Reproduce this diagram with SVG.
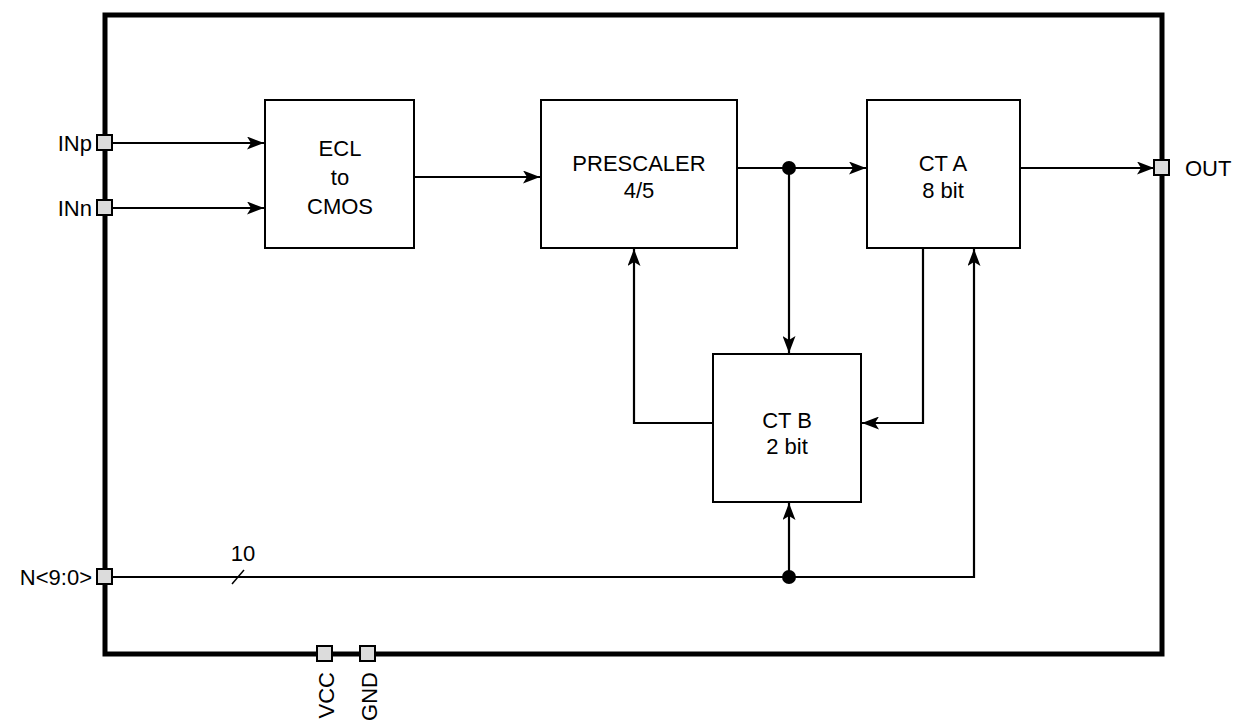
<svg xmlns="http://www.w3.org/2000/svg" width="1238" height="727" viewBox="0 0 1238 727">
<defs>
<style>
.blk{fill:#fff;stroke:#000;stroke-width:2}
.pin{fill:#dcdcdc;stroke:#000;stroke-width:2}
.w{fill:none;stroke:#000;stroke-width:2.2}
text{font-family:"Liberation Sans",Arial,sans-serif;font-size:22px;fill:#000}
.c{text-anchor:middle}
</style>
<marker id="ah" markerWidth="17" markerHeight="13" refX="17" refY="6.5" orient="auto" markerUnits="userSpaceOnUse">
<path d="M0,0 L17,6.5 L0,13 L4,6.5 Z" fill="#000"/>
</marker>
</defs>
<rect width="1238" height="727" fill="#fff"/>
<g id="frame"><rect x="105" y="15" width="1057" height="639" fill="none" stroke="#000" stroke-width="5"/></g>
<g id="connectors">
<line class="w" x1="113" y1="143" x2="264" y2="143" marker-end="url(#ah)"/>
<line class="w" x1="113" y1="208" x2="264" y2="208" marker-end="url(#ah)"/>
<line class="w" x1="414" y1="177" x2="540" y2="177" marker-end="url(#ah)"/>
<line class="w" x1="737" y1="168" x2="866" y2="168" marker-end="url(#ah)"/>
<line class="w" x1="1020" y1="168" x2="1154" y2="168" marker-end="url(#ah)"/>
<line class="w" x1="789" y1="168" x2="789" y2="353" marker-end="url(#ah)"/>
<polyline class="w" points="713,423 634,423 634,249" marker-end="url(#ah)"/>
<polyline class="w" points="923,248 923,423 862,423" marker-end="url(#ah)"/>
<polyline class="w" points="113,577 974,577 974,249" marker-end="url(#ah)"/>
<line class="w" x1="789" y1="577" x2="789" y2="503" marker-end="url(#ah)"/>
<circle cx="789" cy="168" r="7"/>
<circle cx="789" cy="577" r="7"/>
<line x1="232" y1="584" x2="244" y2="570" stroke="#000" stroke-width="1.5"/>
<text x="243" y="561" class="c">10</text>
</g>
<g id="ecl"><rect class="blk" x="265" y="100" width="149" height="148"/>
<text x="340" y="156" class="c">ECL</text><text x="340" y="185" class="c">to</text><text x="340" y="214" class="c">CMOS</text></g>
<g id="prescaler"><rect class="blk" x="541" y="100" width="196" height="148"/>
<text x="639" y="171" class="c">PRESCALER</text><text x="639" y="198" class="c">4/5</text></g>
<g id="cta"><rect class="blk" x="867" y="100" width="153" height="148"/>
<text x="943" y="171" class="c">CT A</text><text x="943" y="198" class="c">8 bit</text></g>
<g id="ctb"><rect class="blk" x="713" y="354" width="148" height="148"/>
<text x="787" y="428" class="c">CT B</text><text x="787" y="454" class="c">2 bit</text></g>
<g id="pin-inp"><rect class="pin" x="97" y="135" width="15" height="15"/><text x="92" y="151" text-anchor="end">INp</text></g>
<g id="pin-inn"><rect class="pin" x="97" y="200" width="15" height="15"/><text x="92" y="216" text-anchor="end">INn</text></g>
<g id="pin-n"><rect class="pin" x="97" y="569" width="15" height="15"/><text x="92" y="585" text-anchor="end">N&lt;9:0&gt;</text></g>
<g id="pin-out"><rect class="pin" x="1154" y="160" width="15" height="15"/><text x="1185" y="176">OUT</text></g>
<g id="pin-vcc"><rect class="pin" x="317" y="646" width="15" height="15"/><text transform="translate(334,672) rotate(-90)" text-anchor="end">VCC</text></g>
<g id="pin-gnd"><rect class="pin" x="360" y="646" width="15" height="15"/><text transform="translate(377,672) rotate(-90)" text-anchor="end">GND</text></g>
</svg>
